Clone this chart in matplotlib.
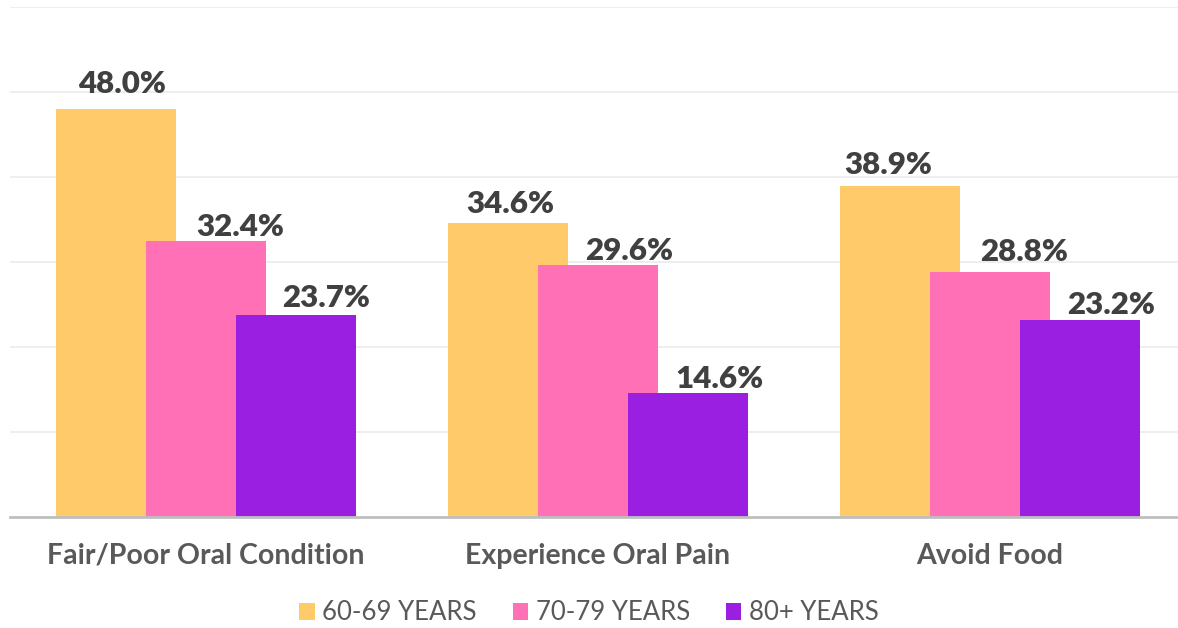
import matplotlib
matplotlib.use("Agg")
import matplotlib.pyplot as plt
import numpy as np

categories = ["Fair/Poor Oral Condition", "Experience Oral Pain", "Avoid Food"]
series_names = ["60-69 YEARS", "70-79 YEARS", "80+ YEARS"]
age_60_69 = [48.0, 34.6, 38.9]
age_70_79 = [32.4, 29.6, 28.8]
age_80_plus = [23.7, 14.6, 23.2]
colors = ["#FFCA69", "#FF70B6", "#9B1FE0"]

# hand-placed data labels in the source: offset from bar top centre, in pixels
label_dx = [[6, 3, -11], [34, 31, 34], [30, 31, 31]]
label_dy = [[16, 10, 12], [5, 5, 11], [8, 5, 6]]

plt.rcParams["font.family"] = ["Lato", "DejaVu Sans"]

DPI = 100
fig = plt.figure(figsize=(11.78, 6.28), dpi=DPI)
ax = fig.add_axes([0.0085, 0.177, 0.9915, 0.812])

x = np.arange(len(categories))
width = 0.306
step = 0.23
px = 72 / DPI
for i, (vals, name, c) in enumerate(zip([age_60_69, age_70_79, age_80_plus], series_names, colors)):
    bars = ax.bar(x + (i - 1) * step, vals, width, color=c, label=name, zorder=2 + i)
    for j, (b, v) in enumerate(zip(bars, vals)):
        ax.annotate(f"{v:.1f}%", (b.get_x() + b.get_width() / 2, v),
                    xytext=(label_dx[i][j] * px, label_dy[i][j] * px),
                    textcoords="offset points",
                    ha="center", va="baseline", fontsize=22.5, fontweight="heavy",
                    color="#404040", zorder=10)

ax.set_xlim(-0.5, 2.48)
ax.set_ylim(0, 60)
ax.set_yticks(np.arange(0, 61, 10))
ax.yaxis.grid(True, color="#EBEBEB", linewidth=1.2, zorder=0)
ax.set_axisbelow(True)
ax.tick_params(left=False, labelleft=False, bottom=False)
for s in ["top", "right", "left"]:
    ax.spines[s].set_visible(False)
ax.spines["bottom"].set_color("#BFBFBF")
ax.spines["bottom"].set_linewidth(2)
ax.spines["bottom"].set_zorder(20)

ax.set_xticks(x)
ax.set_xticklabels(categories, fontsize=20.5, fontweight="bold", color="#595959")
ax.tick_params(axis="x", pad=15)

fig.legend(loc="center", bbox_to_anchor=(0.5, 0.024), ncol=3, frameon=False,
           fontsize=18.5, labelcolor="#595959", handlelength=0.6, handleheight=0.6,
           handletextpad=0.3, columnspacing=1.4)

fig.savefig("out.png", dpi=DPI, facecolor="white")
